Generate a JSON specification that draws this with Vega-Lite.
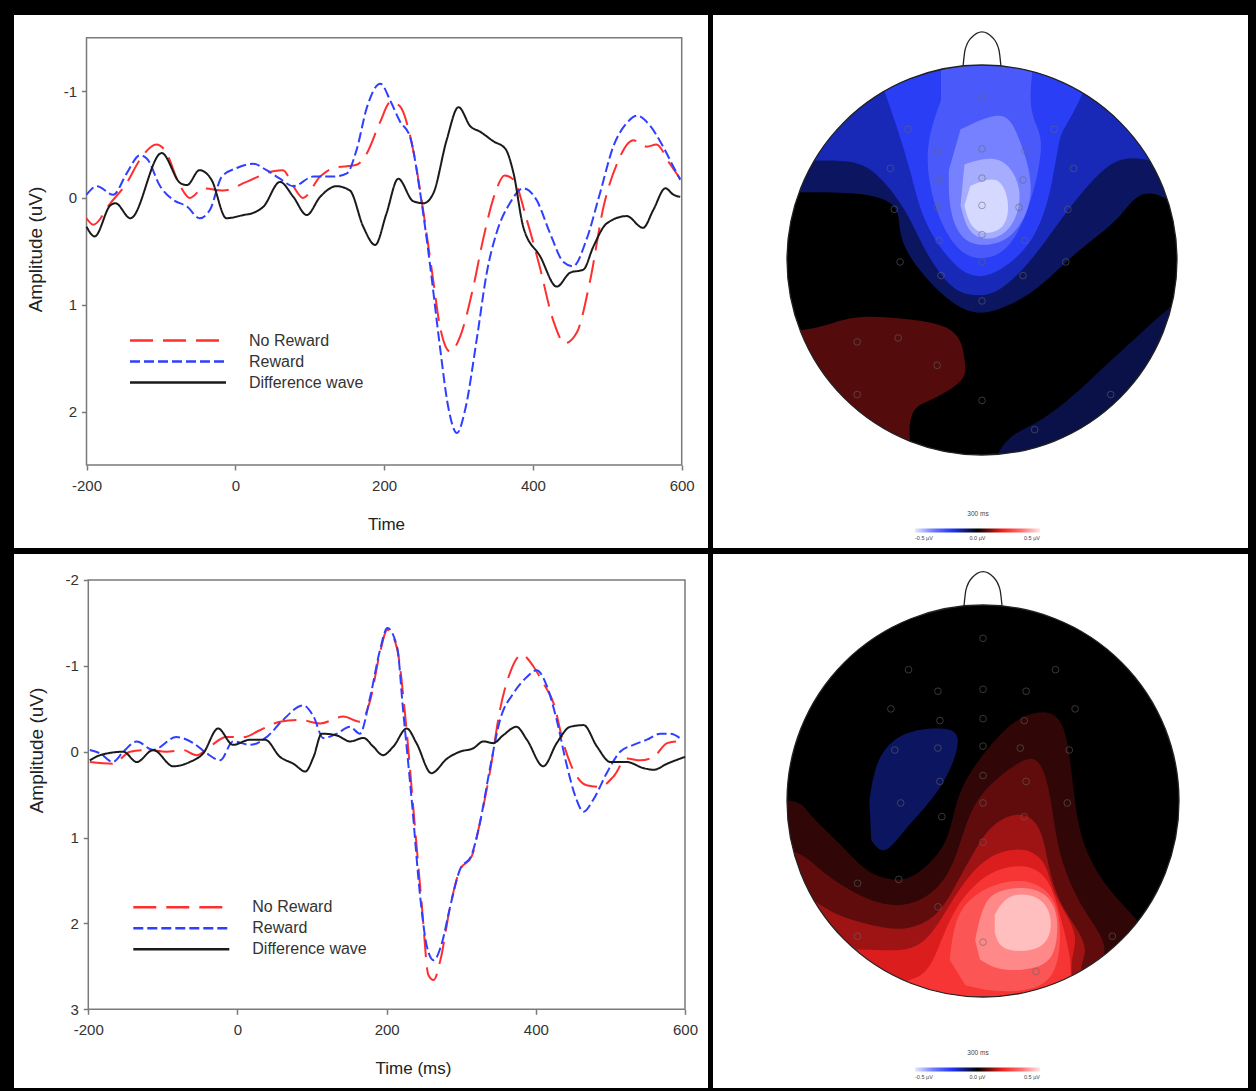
{
  "$schema": "https://vega.github.io/schema/vega-lite/v6.json",
  "background": "black",
  "padding": {"left": 14, "top": 15, "right": 8, "bottom": 3},
  "spacing": 6,
  "config": {"font": "Liberation Sans", "view": {"stroke": null}},
  "resolve": {
    "scale": {"stroke": "independent", "strokeDash": "independent", "fill": "independent", "x": "independent", "y": "independent"},
    "legend": {"stroke": "independent", "strokeDash": "independent", "fill": "independent"}
  },
  "datasets": {
    "erp1": [
      {"s":"No Reward","t":-200,"v":0.19},{"s":"No Reward","t":-191,"v":0.25},{"s":"No Reward","t":-168,"v":0.05},{"s":"No Reward","t":-146,"v":-0.14},{"s":"No Reward","t":-128,"v":-0.36},{"s":"No Reward","t":-106,"v":-0.5},{"s":"No Reward","t":-95,"v":-0.45},{"s":"No Reward","t":-74,"v":-0.11},{"s":"No Reward","t":-61,"v":0.0},{"s":"No Reward","t":-43,"v":-0.09},{"s":"No Reward","t":-16,"v":-0.07},{"s":"No Reward","t":15,"v":-0.15},{"s":"No Reward","t":51,"v":-0.25},{"s":"No Reward","t":64,"v":-0.26},{"s":"No Reward","t":78,"v":-0.11},{"s":"No Reward","t":91,"v":0.0},{"s":"No Reward","t":114,"v":-0.2},{"s":"No Reward","t":132,"v":-0.28},{"s":"No Reward","t":163,"v":-0.31},{"s":"No Reward","t":177,"v":-0.42},{"s":"No Reward","t":194,"v":-0.7},{"s":"No Reward","t":209,"v":-0.9},{"s":"No Reward","t":221,"v":-0.86},{"s":"No Reward","t":239,"v":-0.45},{"s":"No Reward","t":253,"v":0.14},{"s":"No Reward","t":266,"v":0.77},{"s":"No Reward","t":275,"v":1.2},{"s":"No Reward","t":289,"v":1.44},{"s":"No Reward","t":302,"v":1.3},{"s":"No Reward","t":320,"v":0.83},{"s":"No Reward","t":333,"v":0.39},{"s":"No Reward","t":349,"v":-0.04},{"s":"No Reward","t":362,"v":-0.21},{"s":"No Reward","t":374,"v":-0.17},{"s":"No Reward","t":392,"v":0.21},{"s":"No Reward","t":409,"v":0.64},{"s":"No Reward","t":427,"v":1.14},{"s":"No Reward","t":443,"v":1.36},{"s":"No Reward","t":459,"v":1.26},{"s":"No Reward","t":477,"v":0.77},{"s":"No Reward","t":495,"v":0.08},{"s":"No Reward","t":513,"v":-0.32},{"s":"No Reward","t":535,"v":-0.54},{"s":"No Reward","t":553,"v":-0.48},{"s":"No Reward","t":566,"v":-0.5},{"s":"No Reward","t":584,"v":-0.32},{"s":"No Reward","t":598,"v":-0.18},
      {"s":"Reward","t":-200,"v":-0.03},{"s":"Reward","t":-186,"v":-0.11},{"s":"Reward","t":-164,"v":-0.03},{"s":"Reward","t":-146,"v":-0.23},{"s":"Reward","t":-128,"v":-0.4},{"s":"Reward","t":-119,"v":-0.37},{"s":"Reward","t":-101,"v":-0.11},{"s":"Reward","t":-83,"v":0.02},{"s":"Reward","t":-65,"v":0.08},{"s":"Reward","t":-48,"v":0.19},{"s":"Reward","t":-34,"v":0.11},{"s":"Reward","t":-18,"v":-0.2},{"s":"Reward","t":2,"v":-0.28},{"s":"Reward","t":24,"v":-0.32},{"s":"Reward","t":42,"v":-0.26},{"s":"Reward","t":60,"v":-0.18},{"s":"Reward","t":78,"v":-0.11},{"s":"Reward","t":105,"v":-0.2},{"s":"Reward","t":132,"v":-0.2},{"s":"Reward","t":150,"v":-0.23},{"s":"Reward","t":163,"v":-0.45},{"s":"Reward","t":177,"v":-0.85},{"s":"Reward","t":195,"v":-1.07},{"s":"Reward","t":209,"v":-0.9},{"s":"Reward","t":221,"v":-0.72},{"s":"Reward","t":235,"v":-0.57},{"s":"Reward","t":248,"v":-0.07},{"s":"Reward","t":262,"v":0.64},{"s":"Reward","t":275,"v":1.39},{"s":"Reward","t":286,"v":1.95},{"s":"Reward","t":298,"v":2.2},{"s":"Reward","t":309,"v":1.98},{"s":"Reward","t":325,"v":1.3},{"s":"Reward","t":338,"v":0.7},{"s":"Reward","t":351,"v":0.33},{"s":"Reward","t":369,"v":0.05},{"s":"Reward","t":387,"v":-0.09},{"s":"Reward","t":405,"v":0.02},{"s":"Reward","t":423,"v":0.33},{"s":"Reward","t":441,"v":0.6},{"s":"Reward","t":454,"v":0.64},{"s":"Reward","t":472,"v":0.39},{"s":"Reward","t":490,"v":-0.04},{"s":"Reward","t":508,"v":-0.48},{"s":"Reward","t":526,"v":-0.7},{"s":"Reward","t":540,"v":-0.77},{"s":"Reward","t":557,"v":-0.68},{"s":"Reward","t":575,"v":-0.48},{"s":"Reward","t":589,"v":-0.29},{"s":"Reward","t":598,"v":-0.17},
      {"s":"Difference wave","t":-200,"v":0.27},{"s":"Difference wave","t":-189,"v":0.36},{"s":"Difference wave","t":-168,"v":0.07},{"s":"Difference wave","t":-161,"v":0.05},{"s":"Difference wave","t":-141,"v":0.19},{"s":"Difference wave","t":-99,"v":-0.42},{"s":"Difference wave","t":-74,"v":-0.14},{"s":"Difference wave","t":-65,"v":-0.12},{"s":"Difference wave","t":-48,"v":-0.26},{"s":"Difference wave","t":-32,"v":-0.17},{"s":"Difference wave","t":-12,"v":0.19},{"s":"Difference wave","t":11,"v":0.16},{"s":"Difference wave","t":24,"v":0.14},{"s":"Difference wave","t":38,"v":0.08},{"s":"Difference wave","t":60,"v":-0.15},{"s":"Difference wave","t":78,"v":-0.01},{"s":"Difference wave","t":96,"v":0.16},{"s":"Difference wave","t":114,"v":-0.01},{"s":"Difference wave","t":136,"v":-0.11},{"s":"Difference wave","t":154,"v":-0.07},{"s":"Difference wave","t":172,"v":0.27},{"s":"Difference wave","t":188,"v":0.44},{"s":"Difference wave","t":203,"v":0.15},{"s":"Difference wave","t":219,"v":-0.18},{"s":"Difference wave","t":239,"v":0.03},{"s":"Difference wave","t":253,"v":0.05},{"s":"Difference wave","t":266,"v":-0.04},{"s":"Difference wave","t":284,"v":-0.54},{"s":"Difference wave","t":300,"v":-0.85},{"s":"Difference wave","t":316,"v":-0.67},{"s":"Difference wave","t":329,"v":-0.62},{"s":"Difference wave","t":347,"v":-0.53},{"s":"Difference wave","t":363,"v":-0.46},{"s":"Difference wave","t":374,"v":-0.23},{"s":"Difference wave","t":387,"v":0.27},{"s":"Difference wave","t":410,"v":0.55},{"s":"Difference wave","t":432,"v":0.83},{"s":"Difference wave","t":450,"v":0.7},{"s":"Difference wave","t":468,"v":0.67},{"s":"Difference wave","t":481,"v":0.46},{"s":"Difference wave","t":499,"v":0.24},{"s":"Difference wave","t":526,"v":0.17},{"s":"Difference wave","t":548,"v":0.28},{"s":"Difference wave","t":562,"v":0.11},{"s":"Difference wave","t":578,"v":-0.09},{"s":"Difference wave","t":589,"v":-0.03},{"s":"Difference wave","t":598,"v":-0.01}
    ],
    "erp2": [
      {"s":"No Reward","t":-198,"v":0.12},{"s":"No Reward","t":-167,"v":0.14},{"s":"No Reward","t":-144,"v":0.0},{"s":"No Reward","t":-122,"v":-0.02},{"s":"No Reward","t":-95,"v":0.0},{"s":"No Reward","t":-73,"v":-0.02},{"s":"No Reward","t":-55,"v":0.04},{"s":"No Reward","t":-37,"v":-0.06},{"s":"No Reward","t":-15,"v":-0.17},{"s":"No Reward","t":8,"v":-0.17},{"s":"No Reward","t":30,"v":-0.25},{"s":"No Reward","t":57,"v":-0.35},{"s":"No Reward","t":84,"v":-0.37},{"s":"No Reward","t":111,"v":-0.33},{"s":"No Reward","t":142,"v":-0.41},{"s":"No Reward","t":164,"v":-0.35},{"s":"No Reward","t":178,"v":-0.6},{"s":"No Reward","t":191,"v":-1.15},{"s":"No Reward","t":201,"v":-1.42},{"s":"No Reward","t":214,"v":-1.2},{"s":"No Reward","t":225,"v":-0.41},{"s":"No Reward","t":236,"v":0.68},{"s":"No Reward","t":247,"v":1.77},{"s":"No Reward","t":256,"v":2.6},{"s":"No Reward","t":263,"v":2.66},{"s":"No Reward","t":272,"v":2.43},{"s":"No Reward","t":285,"v":1.81},{"s":"No Reward","t":298,"v":1.38},{"s":"No Reward","t":314,"v":1.22},{"s":"No Reward","t":325,"v":0.83},{"s":"No Reward","t":339,"v":0.21},{"s":"No Reward","t":352,"v":-0.49},{"s":"No Reward","t":365,"v":-0.91},{"s":"No Reward","t":381,"v":-1.13},{"s":"No Reward","t":397,"v":-0.99},{"s":"No Reward","t":410,"v":-0.8},{"s":"No Reward","t":424,"v":-0.56},{"s":"No Reward","t":437,"v":-0.1},{"s":"No Reward","t":450,"v":0.21},{"s":"No Reward","t":468,"v":0.39},{"s":"No Reward","t":486,"v":0.41},{"s":"No Reward","t":504,"v":0.29},{"s":"No Reward","t":522,"v":0.08},{"s":"No Reward","t":540,"v":0.1},{"s":"No Reward","t":558,"v":0.06},{"s":"No Reward","t":576,"v":-0.1},{"s":"No Reward","t":589,"v":-0.12},{"s":"No Reward","t":598,"v":-0.08},
      {"s":"Reward","t":-198,"v":-0.02},{"s":"Reward","t":-184,"v":0.02},{"s":"Reward","t":-167,"v":0.12},{"s":"Reward","t":-153,"v":0.0},{"s":"Reward","t":-135,"v":-0.12},{"s":"Reward","t":-113,"v":-0.02},{"s":"Reward","t":-82,"v":-0.17},{"s":"Reward","t":-59,"v":-0.1},{"s":"Reward","t":-41,"v":0.02},{"s":"Reward","t":-23,"v":0.1},{"s":"Reward","t":-6,"v":-0.12},{"s":"Reward","t":17,"v":-0.08},{"s":"Reward","t":39,"v":-0.17},{"s":"Reward","t":61,"v":-0.37},{"s":"Reward","t":88,"v":-0.54},{"s":"Reward","t":102,"v":-0.41},{"s":"Reward","t":115,"v":-0.16},{"s":"Reward","t":133,"v":-0.21},{"s":"Reward","t":151,"v":-0.29},{"s":"Reward","t":164,"v":-0.21},{"s":"Reward","t":178,"v":-0.64},{"s":"Reward","t":191,"v":-1.18},{"s":"Reward","t":201,"v":-1.44},{"s":"Reward","t":214,"v":-1.22},{"s":"Reward","t":222,"v":-0.49},{"s":"Reward","t":234,"v":0.6},{"s":"Reward","t":245,"v":1.69},{"s":"Reward","t":254,"v":2.27},{"s":"Reward","t":263,"v":2.43},{"s":"Reward","t":274,"v":2.23},{"s":"Reward","t":285,"v":1.81},{"s":"Reward","t":298,"v":1.38},{"s":"Reward","t":314,"v":1.2},{"s":"Reward","t":325,"v":0.83},{"s":"Reward","t":339,"v":0.17},{"s":"Reward","t":352,"v":-0.37},{"s":"Reward","t":370,"v":-0.68},{"s":"Reward","t":388,"v":-0.87},{"s":"Reward","t":401,"v":-0.95},{"s":"Reward","t":415,"v":-0.76},{"s":"Reward","t":428,"v":-0.37},{"s":"Reward","t":441,"v":0.14},{"s":"Reward","t":453,"v":0.52},{"s":"Reward","t":464,"v":0.7},{"s":"Reward","t":477,"v":0.56},{"s":"Reward","t":495,"v":0.25},{"s":"Reward","t":513,"v":0.0},{"s":"Reward","t":531,"v":-0.08},{"s":"Reward","t":549,"v":-0.14},{"s":"Reward","t":567,"v":-0.21},{"s":"Reward","t":580,"v":-0.21},{"s":"Reward","t":596,"v":-0.14},
      {"s":"Difference wave","t":-198,"v":0.1},{"s":"Difference wave","t":-184,"v":0.04},{"s":"Difference wave","t":-153,"v":0.0},{"s":"Difference wave","t":-135,"v":0.12},{"s":"Difference wave","t":-113,"v":-0.02},{"s":"Difference wave","t":-86,"v":0.17},{"s":"Difference wave","t":-64,"v":0.12},{"s":"Difference wave","t":-46,"v":0.02},{"s":"Difference wave","t":-26,"v":-0.27},{"s":"Difference wave","t":-6,"v":-0.08},{"s":"Difference wave","t":17,"v":-0.14},{"s":"Difference wave","t":37,"v":-0.14},{"s":"Difference wave","t":57,"v":0.06},{"s":"Difference wave","t":75,"v":0.14},{"s":"Difference wave","t":91,"v":0.23},{"s":"Difference wave","t":102,"v":0.06},{"s":"Difference wave","t":113,"v":-0.21},{"s":"Difference wave","t":133,"v":-0.19},{"s":"Difference wave","t":151,"v":-0.12},{"s":"Difference wave","t":169,"v":-0.16},{"s":"Difference wave","t":182,"v":-0.06},{"s":"Difference wave","t":195,"v":0.04},{"s":"Difference wave","t":209,"v":-0.06},{"s":"Difference wave","t":227,"v":-0.27},{"s":"Difference wave","t":240,"v":-0.1},{"s":"Difference wave","t":260,"v":0.25},{"s":"Difference wave","t":281,"v":0.08},{"s":"Difference wave","t":298,"v":0.0},{"s":"Difference wave","t":316,"v":-0.04},{"s":"Difference wave","t":330,"v":-0.12},{"s":"Difference wave","t":343,"v":-0.1},{"s":"Difference wave","t":356,"v":-0.19},{"s":"Difference wave","t":374,"v":-0.29},{"s":"Difference wave","t":388,"v":-0.14},{"s":"Difference wave","t":410,"v":0.17},{"s":"Difference wave","t":428,"v":-0.1},{"s":"Difference wave","t":446,"v":-0.29},{"s":"Difference wave","t":464,"v":-0.31},{"s":"Difference wave","t":482,"v":-0.06},{"s":"Difference wave","t":500,"v":0.12},{"s":"Difference wave","t":522,"v":0.12},{"s":"Difference wave","t":544,"v":0.19},{"s":"Difference wave","t":558,"v":0.21},{"s":"Difference wave","t":576,"v":0.14},{"s":"Difference wave","t":600,"v":0.06}
    ],
    "topc": [
      {"p":"a","k":0,"x":-140,"y":-150,"v":0},{"p":"a","k":1,"x":140,"y":-150,"v":0},{"p":"a","k":2,"x":140,"y":140,"v":0},{"p":"a","k":3,"x":-140,"y":140,"v":0},
      {"p":"b","k":0,"x":-140,"y":140,"v":-0.08},{"p":"b","k":1,"x":140,"y":140,"v":-0.08},{"p":"b","k":2,"x":140,"y":36,"v":-0.08},{"p":"b","k":3,"x":91,"y":33,"v":-0.08},{"p":"b","k":4,"x":71,"y":23,"v":-0.08},{"p":"b","k":5,"x":50,"y":5,"v":-0.08},{"p":"b","k":6,"x":30,"y":-13,"v":-0.08},{"p":"b","k":7,"x":14,"y":-23,"v":-0.08},{"p":"b","k":8,"x":-1,"y":-27,"v":-0.08},{"p":"b","k":9,"x":-16,"y":-21,"v":-0.08},{"p":"b","k":10,"x":-32,"y":-5,"v":-0.08},{"p":"b","k":11,"x":-42,"y":15,"v":-0.08},{"p":"b","k":12,"x":-57,"y":33,"v":-0.08},{"p":"b","k":13,"x":-140,"y":33,"v":-0.08},
      {"p":"c","k":0,"x":0,"y":-150,"v":-0.06},{"p":"c","k":1,"x":8,"y":-100,"v":-0.06},{"p":"c","k":2,"x":30,"y":-82,"v":-0.06},{"p":"c","k":3,"x":55,"y":-62,"v":-0.06},{"p":"c","k":4,"x":81,"y":-38,"v":-0.06},{"p":"c","k":5,"x":140,"y":-12,"v":-0.06},{"p":"c","k":6,"x":140,"y":-150,"v":-0.06},
      {"p":"d","k":0,"x":-140,"y":-36,"v":0.07},{"p":"d","k":1,"x":-93,"y":-36,"v":0.07},{"p":"d","k":2,"x":-68,"y":-30,"v":0.07},{"p":"d","k":3,"x":-42,"y":-30,"v":0.07},{"p":"d","k":4,"x":-16,"y":-36,"v":0.07},{"p":"d","k":5,"x":-9,"y":-51,"v":0.07},{"p":"d","k":6,"x":-11,"y":-62,"v":0.07},{"p":"d","k":7,"x":-27,"y":-72,"v":0.07},{"p":"d","k":8,"x":-37,"y":-92,"v":0.07},{"p":"d","k":9,"x":-45,"y":-150,"v":0.07},{"p":"d","k":10,"x":-140,"y":-150,"v":0.07},
      {"p":"e","k":0,"x":-140,"y":140,"v":-0.15},{"p":"e","k":1,"x":140,"y":140,"v":-0.15},{"p":"e","k":2,"x":140,"y":56,"v":-0.15},{"p":"e","k":3,"x":86,"y":51,"v":-0.15},{"p":"e","k":4,"x":60,"y":44,"v":-0.15},{"p":"e","k":5,"x":40,"y":20,"v":-0.15},{"p":"e","k":6,"x":25,"y":0,"v":-0.15},{"p":"e","k":7,"x":9,"y":-15,"v":-0.15},{"p":"e","k":8,"x":-4,"y":-18,"v":-0.15},{"p":"e","k":9,"x":-16,"y":-13,"v":-0.15},{"p":"e","k":10,"x":-29,"y":5,"v":-0.15},{"p":"e","k":11,"x":-40,"y":26,"v":-0.15},{"p":"e","k":12,"x":-57,"y":46,"v":-0.15},{"p":"e","k":13,"x":-83,"y":51,"v":-0.15},{"p":"e","k":14,"x":-140,"y":49,"v":-0.15},
      {"p":"f","k":0,"x":-52,"y":140,"v":-0.22},{"p":"f","k":1,"x":55,"y":140,"v":-0.22},{"p":"f","k":2,"x":50,"y":82,"v":-0.22},{"p":"f","k":3,"x":40,"y":62,"v":-0.22},{"p":"f","k":4,"x":35,"y":36,"v":-0.22},{"p":"f","k":5,"x":25,"y":10,"v":-0.22},{"p":"f","k":6,"x":9,"y":-5,"v":-0.22},{"p":"f","k":7,"x":-4,"y":-8,"v":-0.22},{"p":"f","k":8,"x":-16,"y":0,"v":-0.22},{"p":"f","k":9,"x":-29,"y":20,"v":-0.22},{"p":"f","k":10,"x":-37,"y":46,"v":-0.22},{"p":"f","k":11,"x":-45,"y":72,"v":-0.22},{"p":"f","k":12,"x":-52,"y":92,"v":-0.22},
      {"p":"g","k":0,"x":-21,"y":140,"v":-0.28},{"p":"g","k":1,"x":25,"y":140,"v":-0.28},{"p":"g","k":2,"x":25,"y":87,"v":-0.28},{"p":"g","k":3,"x":30,"y":62,"v":-0.28},{"p":"g","k":4,"x":25,"y":31,"v":-0.28},{"p":"g","k":5,"x":14,"y":8,"v":-0.28},{"p":"g","k":6,"x":1,"y":1,"v":-0.28},{"p":"g","k":7,"x":-11,"y":5,"v":-0.28},{"p":"g","k":8,"x":-21,"y":20,"v":-0.28},{"p":"g","k":9,"x":-27,"y":41,"v":-0.28},{"p":"g","k":10,"x":-27,"y":62,"v":-0.28},{"p":"g","k":11,"x":-21,"y":82,"v":-0.28},
      {"p":"h","k":0,"x":-11,"y":67,"v":-0.36},{"p":"h","k":1,"x":9,"y":74,"v":-0.36},{"p":"h","k":2,"x":19,"y":62,"v":-0.36},{"p":"h","k":3,"x":25,"y":36,"v":-0.36},{"p":"h","k":4,"x":17,"y":15,"v":-0.36},{"p":"h","k":5,"x":4,"y":8,"v":-0.36},{"p":"h","k":6,"x":-9,"y":11,"v":-0.36},{"p":"h","k":7,"x":-16,"y":26,"v":-0.36},{"p":"h","k":8,"x":-17,"y":46,"v":-0.36},
      {"p":"i","k":0,"x":-9,"y":49,"v":-0.42},{"p":"i","k":1,"x":9,"y":51,"v":-0.42},{"p":"i","k":2,"x":19,"y":36,"v":-0.42},{"p":"i","k":3,"x":15,"y":18,"v":-0.42},{"p":"i","k":4,"x":4,"y":11,"v":-0.42},{"p":"i","k":5,"x":-6,"y":15,"v":-0.42},{"p":"i","k":6,"x":-11,"y":28,"v":-0.42},
      {"p":"j","k":0,"x":-6,"y":38,"v":-0.48},{"p":"j","k":1,"x":7,"y":41,"v":-0.48},{"p":"j","k":2,"x":13,"y":31,"v":-0.48},{"p":"j","k":3,"x":11,"y":18,"v":-0.48},{"p":"j","k":4,"x":1,"y":14,"v":-0.48},{"p":"j","k":5,"x":-6,"y":19,"v":-0.48},{"p":"j","k":6,"x":-9,"y":28,"v":-0.48}
    ],
    "botc": [
      {"p":"a","k":0,"x":-140,"y":-150,"v":0},{"p":"a","k":1,"x":140,"y":-150,"v":0},{"p":"a","k":2,"x":140,"y":140,"v":0},{"p":"a","k":3,"x":-140,"y":140,"v":0},
      {"p":"b","k":0,"x":-58,"y":0,"v":-0.08},{"p":"b","k":1,"x":-53,"y":21,"v":-0.08},{"p":"b","k":2,"x":-40,"y":34,"v":-0.08},{"p":"b","k":3,"x":-22,"y":37,"v":-0.08},{"p":"b","k":4,"x":-13,"y":32,"v":-0.08},{"p":"b","k":5,"x":-17,"y":16,"v":-0.08},{"p":"b","k":6,"x":-27,"y":0,"v":-0.08},{"p":"b","k":7,"x":-40,"y":-15,"v":-0.08},{"p":"b","k":8,"x":-50,"y":-25,"v":-0.08},{"p":"b","k":9,"x":-57,"y":-20,"v":-0.08},
      {"p":"c","k":0,"x":-140,"y":2,"v":0.04},{"p":"c","k":1,"x":-100,"y":0.5,"v":0.04},{"p":"c","k":2,"x":-88,"y":-7,"v":0.04},{"p":"c","k":3,"x":-73,"y":-22,"v":0.04},{"p":"c","k":4,"x":-58,"y":-36,"v":0.04},{"p":"c","k":5,"x":-42,"y":-40,"v":0.04},{"p":"c","k":6,"x":-30,"y":-34,"v":0.04},{"p":"c","k":7,"x":-19,"y":-20,"v":0.04},{"p":"c","k":8,"x":-13,"y":0.5,"v":0.04},{"p":"c","k":9,"x":-4,"y":18,"v":0.04},{"p":"c","k":10,"x":9,"y":34,"v":0.04},{"p":"c","k":11,"x":21,"y":43,"v":0.04},{"p":"c","k":12,"x":33,"y":45,"v":0.04},{"p":"c","k":13,"x":41,"y":37,"v":0.04},{"p":"c","k":14,"x":45,"y":16,"v":0.04},{"p":"c","k":15,"x":48.5,"y":-10,"v":0.04},{"p":"c","k":16,"x":55,"y":-30,"v":0.04},{"p":"c","k":17,"x":67,"y":-48,"v":0.04},{"p":"c","k":18,"x":80,"y":-63,"v":0.04},{"p":"c","k":19,"x":90,"y":-81,"v":0.04},{"p":"c","k":20,"x":100,"y":-150,"v":0.04},{"p":"c","k":21,"x":-140,"y":-150,"v":0.04},
      {"p":"d","k":0,"x":-140,"y":-22,"v":0.08},{"p":"d","k":1,"x":-100,"y":-25,"v":0.08},{"p":"d","k":2,"x":-83,"y":-35,"v":0.08},{"p":"d","k":3,"x":-63,"y":-48,"v":0.08},{"p":"d","k":4,"x":-42,"y":-53,"v":0.08},{"p":"d","k":5,"x":-24.5,"y":-45,"v":0.08},{"p":"d","k":6,"x":-14,"y":-28,"v":0.08},{"p":"d","k":7,"x":-6.6,"y":-7,"v":0.08},{"p":"d","k":8,"x":3.6,"y":8,"v":0.08},{"p":"d","k":9,"x":16,"y":18,"v":0.08},{"p":"d","k":10,"x":26.5,"y":21,"v":0.08},{"p":"d","k":11,"x":33,"y":8,"v":0.08},{"p":"d","k":12,"x":37,"y":-15,"v":0.08},{"p":"d","k":13,"x":42,"y":-35,"v":0.08},{"p":"d","k":14,"x":52,"y":-56,"v":0.08},{"p":"d","k":15,"x":62,"y":-76,"v":0.08},{"p":"d","k":16,"x":65,"y":-101,"v":0.08},{"p":"d","k":17,"x":66,"y":-150,"v":0.08},{"p":"d","k":18,"x":-140,"y":-150,"v":0.08},
      {"p":"e","k":0,"x":-140,"y":-43,"v":0.13},{"p":"e","k":1,"x":-100,"y":-45,"v":0.13},{"p":"e","k":2,"x":-78,"y":-56,"v":0.13},{"p":"e","k":3,"x":-58,"y":-63,"v":0.13},{"p":"e","k":4,"x":-40,"y":-65,"v":0.13},{"p":"e","k":5,"x":-24.5,"y":-58,"v":0.13},{"p":"e","k":6,"x":-14,"y":-43,"v":0.13},{"p":"e","k":7,"x":-4,"y":-25,"v":0.13},{"p":"e","k":8,"x":6,"y":-12,"v":0.13},{"p":"e","k":9,"x":19,"y":-7,"v":0.13},{"p":"e","k":10,"x":29,"y":-15,"v":0.13},{"p":"e","k":11,"x":34,"y":-35,"v":0.13},{"p":"e","k":12,"x":42,"y":-56,"v":0.13},{"p":"e","k":13,"x":52,"y":-76,"v":0.13},{"p":"e","k":14,"x":54.6,"y":-101,"v":0.13},{"p":"e","k":15,"x":55,"y":-150,"v":0.13},{"p":"e","k":16,"x":-140,"y":-150,"v":0.13},
      {"p":"f","k":0,"x":-140,"y":-80,"v":0.18},{"p":"f","k":1,"x":-93,"y":-81,"v":0.18},{"p":"f","k":2,"x":-68,"y":-76,"v":0.18},{"p":"f","k":3,"x":-42,"y":-76,"v":0.18},{"p":"f","k":4,"x":-27,"y":-68,"v":0.18},{"p":"f","k":5,"x":-17,"y":-53,"v":0.18},{"p":"f","k":6,"x":-6.6,"y":-38,"v":0.18},{"p":"f","k":7,"x":6,"y":-27.6,"v":0.18},{"p":"f","k":8,"x":21,"y":-25,"v":0.18},{"p":"f","k":9,"x":31.6,"y":-33,"v":0.18},{"p":"f","k":10,"x":38,"y":-50,"v":0.18},{"p":"f","k":11,"x":47,"y":-71,"v":0.18},{"p":"f","k":12,"x":49.5,"y":-101,"v":0.18},{"p":"f","k":13,"x":50,"y":-150,"v":0.18},{"p":"f","k":14,"x":-140,"y":-150,"v":0.18},
      {"p":"g","k":0,"x":-47,"y":-150,"v":0.24},{"p":"g","k":1,"x":-47,"y":-101,"v":0.24},{"p":"g","k":2,"x":-32,"y":-89,"v":0.24},{"p":"g","k":3,"x":-22,"y":-73,"v":0.24},{"p":"g","k":4,"x":-14,"y":-55.6,"v":0.24},{"p":"g","k":5,"x":-4,"y":-43,"v":0.24},{"p":"g","k":6,"x":8.7,"y":-35,"v":0.24},{"p":"g","k":7,"x":24,"y":-34,"v":0.24},{"p":"g","k":8,"x":34,"y":-43,"v":0.24},{"p":"g","k":9,"x":40,"y":-61,"v":0.24},{"p":"g","k":10,"x":44.4,"y":-81,"v":0.24},{"p":"g","k":11,"x":44.4,"y":-101,"v":0.24},{"p":"g","k":12,"x":45,"y":-150,"v":0.24},
      {"p":"h","k":0,"x":-17,"y":-81,"v":0.3},{"p":"h","k":1,"x":-14,"y":-63,"v":0.3},{"p":"h","k":2,"x":-6.6,"y":-50.5,"v":0.3},{"p":"h","k":3,"x":6,"y":-43,"v":0.3},{"p":"h","k":4,"x":21,"y":-41,"v":0.3},{"p":"h","k":5,"x":34,"y":-48,"v":0.3},{"p":"h","k":6,"x":39,"y":-63,"v":0.3},{"p":"h","k":7,"x":38,"y":-81,"v":0.3},{"p":"h","k":8,"x":29,"y":-94,"v":0.3},{"p":"h","k":9,"x":8.7,"y":-97,"v":0.3},{"p":"h","k":10,"x":-9,"y":-94,"v":0.3},
      {"p":"i","k":0,"x":-4,"y":-71,"v":0.38},{"p":"i","k":1,"x":1,"y":-53,"v":0.38},{"p":"i","k":2,"x":11,"y":-45.4,"v":0.38},{"p":"i","k":3,"x":26.5,"y":-45.4,"v":0.38},{"p":"i","k":4,"x":36.7,"y":-55.6,"v":0.38},{"p":"i","k":5,"x":37,"y":-73.5,"v":0.38},{"p":"i","k":6,"x":29,"y":-84,"v":0.38},{"p":"i","k":7,"x":11,"y":-86,"v":0.38},{"p":"i","k":8,"x":-1.5,"y":-81,"v":0.38},
      {"p":"j","k":0,"x":6,"y":-58,"v":0.45},{"p":"j","k":1,"x":13.8,"y":-49,"v":0.45},{"p":"j","k":2,"x":26.5,"y":-49,"v":0.45},{"p":"j","k":3,"x":34,"y":-58,"v":0.45},{"p":"j","k":4,"x":33,"y":-70,"v":0.45},{"p":"j","k":5,"x":24,"y":-76,"v":0.45},{"p":"j","k":6,"x":11,"y":-75,"v":0.45},{"p":"j","k":7,"x":6,"y":-67,"v":0.45}
    ],
    "elec": [
      {"x":0,"y":83},{"x":-38,"y":67},{"x":37,"y":67},{"x":-47,"y":47},{"x":-23,"y":56},{"x":0,"y":57},{"x":22,"y":56},{"x":47,"y":47},
      {"x":-45,"y":26},{"x":-22,"y":41},{"x":0,"y":42},{"x":21,"y":41},{"x":44,"y":26},{"x":-23,"y":27},{"x":0,"y":28},{"x":19,"y":27},
      {"x":-22,"y":10},{"x":0,"y":13},{"x":22,"y":10},{"x":-42,"y":-1},{"x":0,"y":-1},{"x":43,"y":-1},{"x":-21,"y":-8},{"x":21,"y":-8},
      {"x":0,"y":-21},{"x":-64,"y":-42},{"x":-43,"y":-40},{"x":-23,"y":-54},{"x":-64,"y":-69},{"x":0,"y":-72},{"x":66,"y":-69},{"x":27,"y":-87}
    ],
    "nose": [
      {"k":0,"x":-9.7,"y":99.5},{"k":1,"x":-8.7,"y":107.7},{"k":2,"x":-5.5,"y":114},{"k":3,"x":0,"y":117},{"k":4,"x":5.5,"y":114},{"k":5,"x":8.7,"y":107.7},{"k":6,"x":9.7,"y":99.5}
    ],
    "box1": [{"t":-200,"t2":600,"v":-1.5,"v2":2.5}],
    "box2": [{"t":-200,"t2":600,"v":-2,"v2":3}],
    "center": [{"x":0,"y":0}]
  },
  "vconcat": [
    {
      "spacing": 5,
      "resolve": {
        "scale": {"stroke": "independent", "strokeDash": "independent", "fill": "independent", "x": "independent", "y": "independent"},
        "legend": {"stroke": "independent", "strokeDash": "independent", "fill": "independent"}
      },
      "hconcat": [
        {
          "width": 694, "height": 533,
          "view": {"fill": "white", "stroke": null},
          "layer": [
            {
              "data": {"name": "box1"},
              "mark": {"type": "rect", "filled": false, "stroke": "#7a7a7a", "strokeWidth": 1.5},
              "encoding": {
                "x": {"field": "t", "type": "quantitative", "scale": {"domain": [-297.45, 635.35], "nice": false, "zero": false},
                  "axis": {"orient": "bottom", "offset": -83, "values": [-200, 0, 200, 400, 600], "domain": false, "grid": false, "tickSize": 5, "tickColor": "#7a7a7a", "tickWidth": 1.5, "labelFontSize": 15, "labelColor": "#333", "labelPadding": 8, "labelExpr": "'' + datum.value", "labelFlush": false, "labelOverlap": false, "title": "Time", "titleFontSize": 17, "titleFontWeight": "normal", "titleColor": "#222", "titleX": 372, "titleY": 59, "titleBaseline": "middle", "titleAlign": "center"}},
                "x2": {"field": "t2"},
                "y": {"field": "v", "type": "quantitative", "scale": {"domain": [-1.7125, 3.277], "reverse": true, "nice": false, "zero": false},
                  "axis": {"orient": "left", "offset": -72.5, "values": [-1, 0, 1, 2], "domain": false, "grid": false, "tickSize": 5, "tickColor": "#7a7a7a", "tickWidth": 1.5, "labelFontSize": 15, "labelColor": "#333", "labelPadding": 5, "labelExpr": "'' + datum.value", "labelFlush": false, "labelOverlap": false, "title": "Amplitude (uV)", "titleFontSize": 19, "titleFontWeight": "normal", "titleColor": "#222", "titleX": -51.5, "titleY": 234, "titleAngle": -90, "titleBaseline": "middle", "titleAlign": "center"}},
                "y2": {"field": "v2"}
              }
            },
            {
              "data": {"name": "erp1"},
              "mark": {"type": "line", "interpolate": "monotone", "strokeWidth": 2},
              "encoding": {
                "x": {"field": "t", "type": "quantitative"},
                "y": {"field": "v", "type": "quantitative"},
                "stroke": {"field": "s", "type": "nominal", "scale": {"domain": ["No Reward", "Reward", "Difference wave"], "range": ["#ff2f2f", "#2f3fff", "#1a1a1a"]},
                  "legend": {"orient": "none", "legendX": 114.5, "legendY": 315, "title": null, "padding": 0, "symbolType": "stroke", "symbolSize": 9216, "symbolStrokeWidth": 2.5, "clipHeight": 21, "rowPadding": 0, "labelOffset": 21.5, "labelFontSize": 16, "labelColor": "#333", "labelLimit": 300}},
                "strokeDash": {"field": "s", "type": "nominal", "scale": {"domain": ["No Reward", "Reward", "Difference wave"], "range": [[23, 10], [10, 4], [1, 0]]},
                  "legend": {"orient": "none", "legendX": 114.5, "legendY": 315, "title": null, "padding": 0, "symbolType": "stroke", "symbolSize": 9216, "symbolStrokeWidth": 2.5, "clipHeight": 21, "rowPadding": 0, "labelOffset": 21.5, "labelFontSize": 16, "labelColor": "#333", "labelLimit": 300}}
              }
            }
          ]
        },
        {
          "width": 535, "height": 533,
          "view": {"fill": "white", "stroke": null},
          "encoding": {
            "x": {"field": "x", "type": "quantitative", "scale": {"domain": [-137.95, 136.41], "nice": false, "zero": false}, "axis": null},
            "y": {"field": "y", "type": "quantitative", "scale": {"domain": [-147.69, 125.64], "nice": false, "zero": false}, "axis": null}
          },
          "layer": [
            {
              "data": {"name": "topc"},
              "mark": {"type": "line", "interpolate": "natural", "strokeWidth": 0, "clip": true},
              "encoding": {
                "detail": {"field": "p", "type": "nominal"},
                "order": {"field": "k", "type": "quantitative"},
                "fill": {"field": "v", "type": "quantitative",
                  "scale": {"domain": [-0.5, -0.35, -0.2, -0.08, 0, 0.08, 0.2, 0.35, 0.5], "range": ["#e6e8ff", "#6e7aff", "#2035f5", "#0c1660", "#000000", "#600c0c", "#f52020", "#ff7070", "#ffe6e6"], "interpolate": "rgb"},
                  "legend": {"orient": "none", "direction": "horizontal", "legendX": 202, "legendY": 496, "title": "300 ms", "titleFontSize": 6.5, "titleFontWeight": "normal", "titleColor": "#444", "titleAnchor": "middle", "titlePadding": 11, "gradientLength": 125, "gradientThickness": 4, "gradientStrokeWidth": 0, "values": [-0.5, 0, 0.5], "labelFontSize": 5.5, "labelColor": "#444", "labelAlign": "center", "labelOffset": 3, "labelExpr": "(datum.value < 0 ? '-' : '') + format(abs(datum.value), '.1f') + ' µV'", "padding": 0}}
              }
            },
            {
              "data": {"name": "elec"},
              "mark": {"type": "point", "shape": "circle", "size": 45, "filled": false, "stroke": "#666", "strokeWidth": 0.8, "opacity": 0.7}
            },
            {
              "data": {"name": "center"},
              "mark": {"type": "point", "shape": "circle", "size": 504100, "filled": false, "stroke": "white", "strokeWidth": 320, "opacity": 1, "clip": true}
            },
            {
              "data": {"name": "center"},
              "mark": {"type": "point", "shape": "circle", "size": 152100, "filled": false, "stroke": "#222", "strokeWidth": 1.3, "opacity": 1}
            },
            {
              "data": {"name": "nose"},
              "mark": {"type": "line", "interpolate": "monotone", "stroke": "#222", "strokeWidth": 1.3},
              "encoding": {"order": {"field": "k", "type": "quantitative"}}
            }
          ]
        }
      ]
    },
    {
      "spacing": 5,
      "resolve": {
        "scale": {"stroke": "independent", "strokeDash": "independent", "fill": "independent", "x": "independent", "y": "independent"},
        "legend": {"stroke": "independent", "strokeDash": "independent", "fill": "independent"}
      },
      "hconcat": [
        {
          "width": 694, "height": 534,
          "view": {"fill": "white", "stroke": null},
          "layer": [
            {
              "data": {"name": "box2"},
              "mark": {"type": "rect", "filled": false, "stroke": "#7a7a7a", "strokeWidth": 1.5},
              "encoding": {
                "x": {"field": "t", "type": "quantitative", "scale": {"domain": [-299.6, 630.84], "nice": false, "zero": false},
                  "axis": {"orient": "bottom", "offset": -78.7, "values": [-200, 0, 200, 400, 600], "domain": false, "grid": false, "tickSize": 5, "tickColor": "#7a7a7a", "tickWidth": 1.5, "labelFontSize": 15, "labelColor": "#333", "labelPadding": 8, "labelExpr": "'' + datum.value", "labelFlush": false, "labelOverlap": false, "title": "Time (ms)", "titleFontSize": 17, "titleFontWeight": "normal", "titleColor": "#222", "titleX": 399, "titleY": 58.7, "titleBaseline": "middle", "titleAlign": "center"}},
                "x2": {"field": "t2"},
                "y": {"field": "v", "type": "quantitative", "scale": {"domain": [-2.3028, 3.9166], "reverse": true, "nice": false, "zero": false},
                  "axis": {"orient": "left", "offset": -74.3, "values": [-2, -1, 0, 1, 2, 3], "domain": false, "grid": false, "tickSize": 5, "tickColor": "#7a7a7a", "tickWidth": 1.5, "labelFontSize": 15, "labelColor": "#333", "labelPadding": 5, "labelExpr": "'' + datum.value", "labelFlush": false, "labelOverlap": false, "title": "Amplitude (uV)", "titleFontSize": 19, "titleFontWeight": "normal", "titleColor": "#222", "titleX": -52.3, "titleY": 196, "titleAngle": -90, "titleBaseline": "middle", "titleAlign": "center"}},
                "y2": {"field": "v2"}
              }
            },
            {
              "data": {"name": "erp2"},
              "mark": {"type": "line", "interpolate": "monotone", "strokeWidth": 2},
              "encoding": {
                "x": {"field": "t", "type": "quantitative"},
                "y": {"field": "v", "type": "quantitative"},
                "stroke": {"field": "s", "type": "nominal", "scale": {"domain": ["No Reward", "Reward", "Difference wave"], "range": ["#ff2f2f", "#2f3fff", "#1a1a1a"]},
                  "legend": {"orient": "none", "legendX": 117.8, "legendY": 342.8, "title": null, "padding": 0, "symbolType": "stroke", "symbolSize": 9216, "symbolStrokeWidth": 2.5, "clipHeight": 21, "rowPadding": 0, "labelOffset": 21.5, "labelFontSize": 16, "labelColor": "#333", "labelLimit": 300}},
                "strokeDash": {"field": "s", "type": "nominal", "scale": {"domain": ["No Reward", "Reward", "Difference wave"], "range": [[23, 10], [10, 4], [1, 0]]},
                  "legend": {"orient": "none", "legendX": 117.8, "legendY": 342.8, "title": null, "padding": 0, "symbolType": "stroke", "symbolSize": 9216, "symbolStrokeWidth": 2.5, "clipHeight": 21, "rowPadding": 0, "labelOffset": 21.5, "labelFontSize": 16, "labelColor": "#333", "labelLimit": 300}}
              }
            }
          ]
        },
        {
          "width": 535, "height": 534,
          "view": {"fill": "white", "stroke": null},
          "encoding": {
            "x": {"field": "x", "type": "quantitative", "scale": {"domain": [-137.76, 135.2], "nice": false, "zero": false}, "axis": null},
            "y": {"field": "y", "type": "quantitative", "scale": {"domain": [-146.43, 126.02], "nice": false, "zero": false}, "axis": null}
          },
          "layer": [
            {
              "data": {"name": "botc"},
              "mark": {"type": "line", "interpolate": "natural", "strokeWidth": 0, "clip": true},
              "encoding": {
                "detail": {"field": "p", "type": "nominal"},
                "order": {"field": "k", "type": "quantitative"},
                "fill": {"field": "v", "type": "quantitative",
                  "scale": {"domain": [-0.5, -0.35, -0.2, -0.08, 0, 0.08, 0.2, 0.35, 0.5], "range": ["#e6e8ff", "#6e7aff", "#2035f5", "#0c1660", "#000000", "#600c0c", "#f52020", "#ff7070", "#ffe6e6"], "interpolate": "rgb"},
                  "legend": {"orient": "none", "direction": "horizontal", "legendX": 202, "legendY": 496, "title": "300 ms", "titleFontSize": 6.5, "titleFontWeight": "normal", "titleColor": "#444", "titleAnchor": "middle", "titlePadding": 11, "gradientLength": 125, "gradientThickness": 4, "gradientStrokeWidth": 0, "values": [-0.5, 0, 0.5], "labelFontSize": 5.5, "labelColor": "#444", "labelAlign": "center", "labelOffset": 3, "labelExpr": "(datum.value < 0 ? '-' : '') + format(abs(datum.value), '.1f') + ' µV'", "padding": 0}}
              }
            },
            {
              "data": {"name": "elec"},
              "mark": {"type": "point", "shape": "circle", "size": 45, "filled": false, "stroke": "#666", "strokeWidth": 0.8, "opacity": 0.7}
            },
            {
              "data": {"name": "center"},
              "mark": {"type": "point", "shape": "circle", "size": 506944, "filled": false, "stroke": "white", "strokeWidth": 320, "opacity": 1, "clip": true}
            },
            {
              "data": {"name": "center"},
              "mark": {"type": "point", "shape": "circle", "size": 153664, "filled": false, "stroke": "#222", "strokeWidth": 1.3, "opacity": 1}
            },
            {
              "data": {"name": "nose"},
              "mark": {"type": "line", "interpolate": "monotone", "stroke": "#222", "strokeWidth": 1.3},
              "encoding": {"order": {"field": "k", "type": "quantitative"}}
            }
          ]
        }
      ]
    }
  ]
}
